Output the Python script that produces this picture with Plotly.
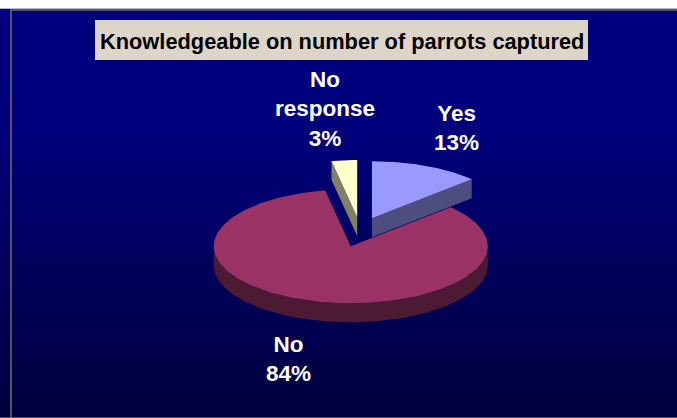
import numpy as np
import plotly.graph_objects as go

# ---- data ----
labels = ["Yes", "No", "No response"]
percents = [13, 84, 3]
title_text = "Knowledgeable on number of parrots captured"

# ---- style ----
top_colors = ["#9999FF", "#993366", "#FFFFCC"]
side_colors = ["#4D4D80", "#4C1A33", "#808066"]
W, H = 677, 418
CX, CY = 360, 232          # pie centre (pixels)
A, B = 137, 57             # ellipse semi-axes
DEPTH = 19                 # pie thickness
PULL, PULL_K = 30, 0.5     # explosion distance / vertical factor
label_pos = {"Yes": (456, 128), "No": (288, 359), "No response": (325, 109)}

fig = go.Figure()

# gradient background via heatmap
ys = np.linspace(10, H + 2, 160)
fig.add_trace(go.Heatmap(
    x=[11, W + 2], y=ys, z=np.tile(ys[:, None], (1, 2)),
    colorscale=[[0, "#000080"], [0.3, "#00007C"], [0.65, "#00005A"], [1, "#00003E"]],
    showscale=False, hoverinfo="skip", zsmooth="best"))

def pt(ox, oy, t, dy=0.0):
    return ox + A * np.sin(t), oy - B * np.cos(t) + dy

def poly(xs, ys, color):
    fig.add_trace(go.Scatter(x=list(xs), y=list(ys), mode="lines", fill="toself",
                             fillcolor=color, line=dict(width=0, color=color),
                             hoverinfo="skip", showlegend=False))

# compute slice angles
total = sum(percents)
angles = []
acc = 0.0
for p in percents:
    t0 = 2 * np.pi * acc / total
    acc += p
    t1 = 2 * np.pi * acc / total
    angles.append((t0, t1))

order = [0, 2, 1]  # back slices first
for i in order:
    t0, t1 = angles[i]
    mid = (t0 + t1) / 2
    ox = CX + PULL * np.sin(mid)
    oy = CY - PULL * PULL_K * np.cos(mid)
    sc = side_colors[i]
    # start cut face
    if np.sin(t0) < -1e-6:
        x1, y1 = pt(ox, oy, t0)
        poly([ox, x1, x1, ox], [oy, y1, y1 + DEPTH, oy + DEPTH], sc)
    # end cut face
    if np.sin(t1) > 1e-6:
        x1, y1 = pt(ox, oy, t1)
        poly([ox, x1, x1, ox], [oy, y1, y1 + DEPTH, oy + DEPTH], sc)
    # outer rim (front half only)
    a0, a1 = max(t0, np.pi / 2), min(t1, 3 * np.pi / 2)
    if a1 > a0:
        ts = np.linspace(a0, a1, 120)
        xs_t, ys_t = pt(ox, oy, ts)
        xs_b, ys_b = pt(ox, oy, ts[::-1], DEPTH)
        poly(np.concatenate([xs_t, xs_b]), np.concatenate([ys_t, ys_b]), sc)
    # top face
    ts = np.linspace(t0, t1, 200)
    xs_t, ys_t = pt(ox, oy, ts)
    poly(np.concatenate([[ox], xs_t, [ox]]), np.concatenate([[oy], ys_t, [oy]]), top_colors[i])

# labels
for lab, p in zip(labels, percents):
    x, y = label_pos[lab]
    txt = lab.replace(" ", "<br>") + "<br>" + f"{p}%"
    fig.add_annotation(x=x, y=y, text=f"<b>{txt}</b>", showarrow=False,
                       font=dict(family="Liberation Sans, Arial", size=22.5, color="white"),
                       xanchor="center", yanchor="middle", align="center")

# title box
fig.add_shape(type="rect", x0=95, y0=20, x1=588, y1=60, fillcolor="#DDD6C8",
              line=dict(width=0), layer="above")
fig.add_annotation(x=341.5, y=41, text=f"<b>{title_text}</b>", showarrow=False,
                   font=dict(family="Liberation Sans, Arial", size=21.8, color="black"),
                   xanchor="center", yanchor="middle")

# border
fig.add_shape(type="rect", x0=11, y0=10, x1=W + 5, y1=H + 5,
              line=dict(color="#6E6E6E", width=1.5), layer="above")

fig.update_layout(
    width=W, height=H, autosize=False,
    margin=dict(l=0, r=0, t=0, b=0),
    paper_bgcolor="white", plot_bgcolor="white",
    xaxis=dict(range=[0, W], visible=False, fixedrange=True),
    yaxis=dict(range=[H, 0], visible=False, fixedrange=True),
    showlegend=False,
)
fig.write_html("out.html")
